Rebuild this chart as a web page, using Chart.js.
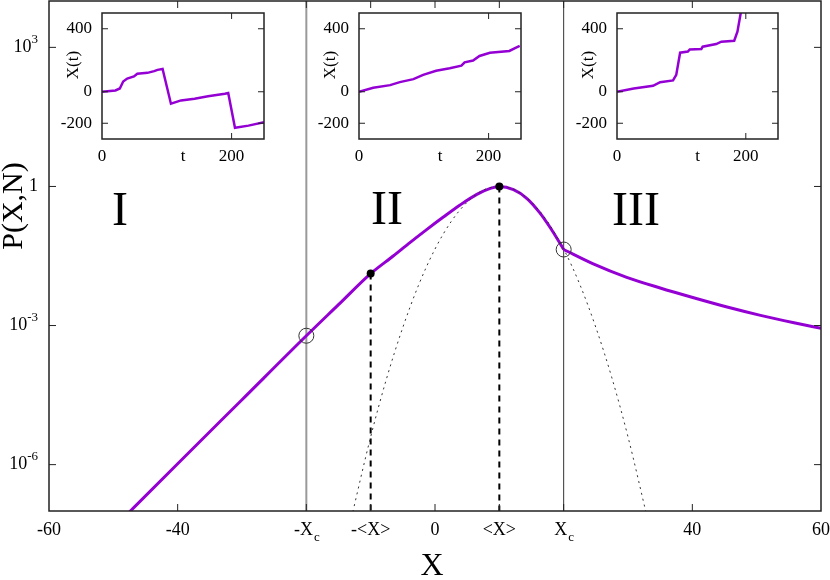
<!DOCTYPE html>
<html>
<head>
<meta charset="utf-8">
<script src="https://cdn.jsdelivr.net/npm/chart.js@4.4.1/dist/chart.umd.min.js"></script>
<style>
  body { margin: 0; background: #fff; }
  #wrap { position: relative; width: 830px; height: 580px; }
  #wrap canvas { position: absolute; left: 0; top: 0; }
</style>
</head>
<body>
<div id="wrap">
  <canvas id="mainChart" width="830" height="580"></canvas>
  <canvas id="inset1" width="830" height="580"></canvas>
  <canvas id="inset2" width="830" height="580"></canvas>
  <canvas id="inset3" width="830" height="580"></canvas>
</div>
<script>
// ---- values ----
// main axes
const xTickValues = [-60, -40, -20, -10, 0, 10, 20, 40, 60];
const xTickLabels = ['-60', '-40', '-X_c', '-<X>', '0', '<X>', 'X_c', '40', '60'];
const yTickValues = [1e3, 1, 1e-3, 1e-6];
const yTickLabels = ['10^3', '1', '10^-3', '10^-6'];

// P(X,N), log10 values, left branch up to X_c
const bulkX    = [-50, -40, -30, -20, -15, -10, -6.5, -3.9, -1.3, 1.3, 3.9, 6.5, 8.6, 10, 12.2, 14.3, 16.3, 18.2, 20];
const bulkLogP = [-7.37, -5.98, -4.60, -3.22, -2.55, -1.88, -1.50, -1.21, -0.93, -0.66, -0.40, -0.17, -0.04, 0, -0.07, -0.26, -0.57, -0.95, -1.36];
// tail beyond X_c
const tailX    = [20, 24.6, 29.8, 35, 40.2, 45.4, 50.6, 55.8, 60];
const tailLogP = [-1.36, -1.67, -1.96, -2.19, -2.40, -2.60, -2.78, -2.94, -3.06];
// gaussian (dotted)
const gaussX    = [-13.2, -10, -7.5, -5, -2.5, 0, 2.5, 5, 7.5, 10, 12.5, 15, 17.5, 20, 22.5, 25, 27.5, 30, 33.2];
const gaussLogP = [-7.27, -5.40, -4.13, -3.04, -2.11, -1.35, -0.76, -0.34, -0.08, 0, -0.08, -0.34, -0.76, -1.35, -2.11, -3.04, -4.13, -5.40, -7.27];

// markers
const dotX = [-10, 10];
const dotLogP = [-1.88, 0];
const ringX = [-20, 20];
const ringLogP = [-3.22, -1.36];
const Xc = 20;
const meanX = 10;

// insets X(t)
const insetXTicks = [0, 200];
const insetYTicks = [-200, 0, 400];
const t1 = [0, 20.7, 27.5, 32.7, 38.9, 49.3, 54.5, 70.1, 80.5, 85.7, 93.5, 106.4, 122, 142.8, 163.6, 189.6, 194.8, 205.2, 226, 250];
const x1 = [0, 8, 21, 65, 84, 97, 114, 120, 131, 139, 145, -76, -55, -44, -29, -13, -8, -229, -215, -194];
const t2 = [0, 22, 48, 63, 84, 99, 119, 140, 158, 163, 176, 186, 202, 232, 240, 248];
const x2 = [0, 25, 42, 61, 80, 107, 133, 149, 166, 187, 198, 227, 248, 259, 276, 291];
const t3 = [0, 26, 56, 67, 87, 92, 98, 110, 113, 131, 133, 154, 162, 182, 187, 192, 194];
const x3 = [0, 21, 38, 61, 72, 107, 248, 255, 269, 272, 286, 303, 318, 324, 381, 497, 540];

const PURPLE = '#9400d3';
const SERIF = '"Liberation Serif", "DejaVu Serif", serif';

const pts = (xs, ys) => xs.map((x, i) => ({ x: x, y: ys[i] }));
const logPts = (xs, ls) => xs.map((x, i) => ({ x: x, y: Math.pow(10, ls[i]) }));

// text with a superscript (^) or subscript (_)
function drawRich(ctx, str, x, y, align, size) {
  let base = str, sup = '', sub = '';
  if (str.includes('^')) [base, sup] = str.split('^');
  else if (str.includes('_')) [base, sub] = str.split('_');
  const small = Math.round(size * 0.7);
  ctx.font = size + 'px ' + SERIF;
  const wb = ctx.measureText(base).width;
  ctx.font = small + 'px ' + SERIF;
  const ws = (sup || sub) ? ctx.measureText(sup || sub).width : 0;
  const w = wb + ws;
  const x0 = align === 'center' ? x - w / 2 : align === 'right' ? x - w : x;
  ctx.textAlign = 'left';
  ctx.textBaseline = 'middle';
  ctx.font = size + 'px ' + SERIF;
  ctx.fillText(base, x0, y);
  ctx.font = small + 'px ' + SERIF;
  if (sup) ctx.fillText(sup, x0 + wb, y - size * 0.42);
  if (sub) ctx.fillText(sub, x0 + wb + 1, y + size * 0.4);
}

// box, inward ticks (gnuplot style), tick labels, free texts
function makeFrame(cfg) {
  return {
    id: 'frame',
    afterDatasetsDraw(chart) {
      const ctx = chart.ctx;
      const a = chart.chartArea;
      const sx = chart.scales.x, sy = chart.scales.y;
      ctx.save();
      ctx.strokeStyle = '#222';
      ctx.lineWidth = 1;
      ctx.fillStyle = '#000';
      sx.ticks.forEach((t, i) => {
        const px = sx.getPixelForValue(t.value);
        if (cfg.xMarks[i]) {
          ctx.beginPath();
          ctx.moveTo(px, a.bottom); ctx.lineTo(px, a.bottom - cfg.tickLen);
          ctx.moveTo(px, a.top); ctx.lineTo(px, a.top + cfg.tickLen);
          ctx.stroke();
        }
        drawRich(ctx, cfg.xLabels[i], px, a.bottom + cfg.xGap, 'center', cfg.size);
      });
      sy.ticks.forEach((t, i) => {
        const py = sy.getPixelForValue(t.value);
        if (cfg.yMarks[i]) {
          ctx.beginPath();
          ctx.moveTo(a.left, py); ctx.lineTo(a.left + cfg.tickLen, py);
          ctx.moveTo(a.right, py); ctx.lineTo(a.right - cfg.tickLen, py);
          ctx.stroke();
        }
        drawRich(ctx, cfg.yLabels[i], a.left - cfg.yGap, py, 'right', cfg.size);
      });
      ctx.lineWidth = 1.5;
      ctx.strokeRect(a.left, a.top, a.right - a.left, a.bottom - a.top);
      cfg.texts.forEach(tx => {
        ctx.save();
        ctx.font = tx.size + 'px ' + SERIF;
        ctx.textAlign = 'center';
        ctx.textBaseline = 'middle';
        ctx.translate(tx.x, tx.y);
        if (tx.rotate) ctx.rotate(-Math.PI / 2);
        ctx.fillText(tx.text, 0, 0);
        ctx.restore();
      });
      ctx.restore();
    }
  };
}

function hiddenAxis(extra) {
  return Object.assign({
    ticks: { display: false },
    grid: { display: false, drawTicks: false },
    border: { display: false }
  }, extra);
}

// ---- main chart ----
const mainChart = new Chart(document.getElementById('mainChart'), {
  type: 'line',
  data: {
    datasets: [
      { data: logPts(dotX, dotLogP), showLine: false, pointRadius: 4, pointBackgroundColor: '#000', pointBorderWidth: 0, order: 0 },
      { data: logPts(ringX, ringLogP), showLine: false, pointRadius: 7.5, pointBackgroundColor: 'rgba(0,0,0,0)', pointBorderColor: '#333', pointBorderWidth: 1, order: 1 },
      { data: logPts(gaussX, gaussLogP), borderColor: '#333', borderWidth: 1, borderDash: [2, 4], pointRadius: 0, cubicInterpolationMode: 'monotone', order: 2 },
      { data: logPts(bulkX, bulkLogP), borderColor: PURPLE, borderWidth: 3, pointRadius: 0, cubicInterpolationMode: 'monotone', order: 3 },
      { data: logPts(tailX, tailLogP), borderColor: PURPLE, borderWidth: 3, pointRadius: 0, cubicInterpolationMode: 'monotone', order: 4 },
      { data: logPts([-meanX, -meanX], [dotLogP[0], -7]), borderColor: '#000', borderWidth: 2, borderDash: [6, 5], pointRadius: 0, order: 5 },
      { data: logPts([meanX, meanX], [dotLogP[1], -7]), borderColor: '#000', borderWidth: 2, borderDash: [6, 5], pointRadius: 0, order: 6 },
      { data: logPts([-Xc, -Xc], [-7, 4]), borderColor: '#999', borderWidth: 2, pointRadius: 0, order: 7 },
      { data: logPts([Xc, Xc], [-7, 4]), borderColor: '#333', borderWidth: 1, pointRadius: 0, order: 8 }
    ]
  },
  options: {
    responsive: false,
    animation: false,
    events: [],
    layout: { autoPadding: false, padding: { left: 49, right: 9, top: 1, bottom: 69 } },
    plugins: { legend: { display: false }, tooltip: { enabled: false } },
    scales: {
      x: hiddenAxis({ type: 'linear', min: -60, max: 60,
        afterBuildTicks: s => { s.ticks = xTickValues.map(v => ({ value: v })); } }),
      y: hiddenAxis({ type: 'logarithmic', min: 1e-7, max: 1e4,
        afterBuildTicks: s => { s.ticks = yTickValues.map(v => ({ value: v })); } })
    }
  },
  plugins: [makeFrame({
    xLabels: xTickLabels, yLabels: yTickLabels,
    xMarks: [false, true, true, true, true, true, true, true, false],
    yMarks: [true, true, true, true],
    tickLen: 7, size: 18, xGap: 19, yGap: 11,
    texts: [
      { text: 'P(X,N)', x: 14, y: 206, size: 30, rotate: true },
      { text: 'X', x: 432, y: 567, size: 32 },
      { text: 'I', x: 120, y: 212, size: 48 },
      { text: 'II', x: 387, y: 211, size: 48 },
      { text: 'III', x: 636, y: 212, size: 48 }
    ]
  })]
});

// ---- insets ----
function makeInset(id, ts, xs, left, right) {
  return new Chart(document.getElementById(id), {
    type: 'line',
    data: {
      datasets: [{ data: pts(ts, xs), borderColor: PURPLE, borderWidth: 2.5, pointRadius: 0 }]
    },
    options: {
      responsive: false,
      animation: false,
      events: [],
      layout: { autoPadding: false, padding: { left: left, right: 830 - right, top: 13, bottom: 580 - 139 } },
      plugins: { legend: { display: false }, tooltip: { enabled: false } },
      scales: {
        x: hiddenAxis({ type: 'linear', min: 0, max: 250,
          afterBuildTicks: s => { s.ticks = insetXTicks.map(v => ({ value: v })); } }),
        y: hiddenAxis({ type: 'linear', min: -300, max: 500,
          afterBuildTicks: s => { s.ticks = insetYTicks.map(v => ({ value: v })); } })
      }
    },
    plugins: [makeFrame({
      xLabels: insetXTicks.map(String), yLabels: insetYTicks.map(String),
      xMarks: [false, true], yMarks: [true, true, true],
      tickLen: 6, size: 17, xGap: 18, yGap: 10,
      texts: [
        { text: 't', x: (left + right) / 2, y: 157, size: 17 },
        { text: 'X(t)', x: left - 28, y: 65, size: 17, rotate: true }
      ]
    })]
  });
}

const inset1 = makeInset('inset1', t1, x1, 102, 264);
const inset2 = makeInset('inset2', t2, x2, 359, 521);
const inset3 = makeInset('inset3', t3, x3, 617, 778);
</script>
</body>
</html>
